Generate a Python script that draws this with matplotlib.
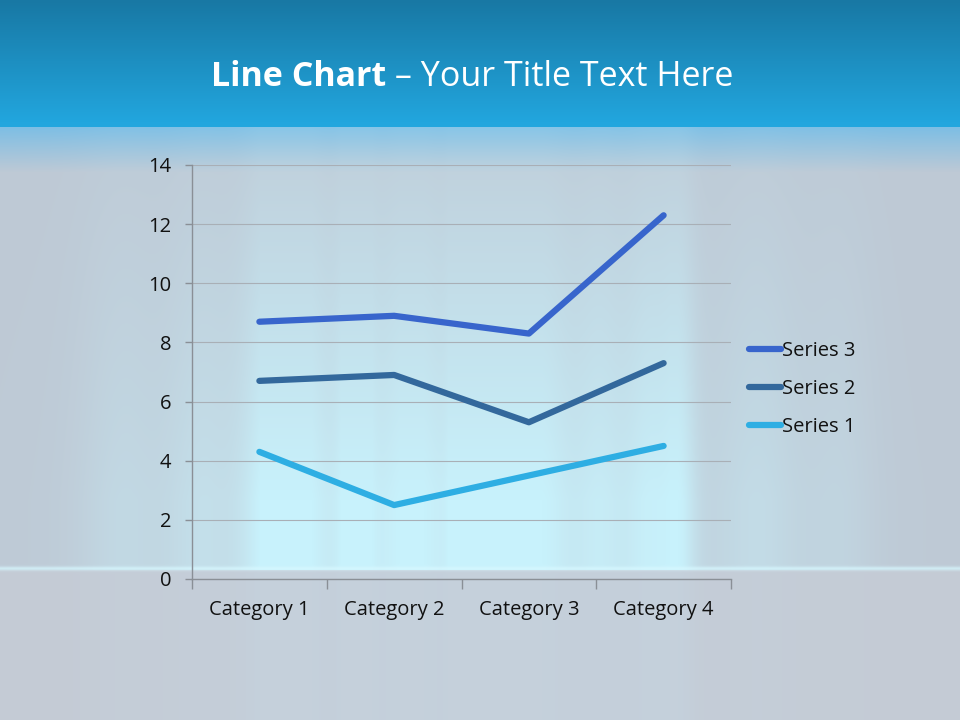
import numpy as np
import matplotlib.pyplot as plt

# chart data
categories = ['Category 1', 'Category 2', 'Category 3', 'Category 4']
series1 = [4.3, 2.5, 3.5, 4.5]
series2 = [6.7, 6.9, 5.3, 7.3]
series3 = [8.7, 8.9, 8.3, 12.3]
y_ticks = [0, 2, 4, 6, 8, 10, 12, 14]

FONT = 'Open Sans'
W, H = 960, 720

# slide background: blue header, grey body with light vertical streaks
yy = np.arange(H)[:, None]
cols = np.arange(W)

top = np.array([24, 120, 164]) / 255
head = np.array([34, 166, 222]) / 255
t = np.clip(yy / 122, 0, 1)[..., None]
header = top * (1 - t) + head * t

glow_a = np.array([125, 190, 228]) / 255
grey = np.array([190, 201, 213]) / 255
t2 = np.clip((yy - 127) / 45, 0, 1)[..., None]
body = glow_a * (1 - t2) + grey * t2

# broad soft glow plus narrow streaks across the width
broad = np.exp(-0.5 * ((cols - 450) / 190) ** 2) * 0.55
centers = [120, 200, 265, 300, 355, 410, 465, 490, 540, 600, 650, 680, 760, 840]
widths = [30, 25, 20, 25, 12, 30, 10, 18, 25, 18, 20, 12, 30, 25]
amps = [0.25, 0.3, 0.5, 0.6, 0.7, 0.5, 0.8, 0.6, 0.5, 0.4, 0.6, 0.5, 0.3, 0.2]
prof = broad.copy()
for c, w, a in zip(centers, widths, amps):
    prof += a * np.exp(-0.5 * ((cols - c) / w) ** 2)
prof = np.clip(prof, 0, 1)[None, :]
env = np.clip((yy - 140) / 360, 0, 1) * 0.85 + 0.15
streak_col = np.array([200, 242, 252]) / 255
s = (prof * env)[..., None]
body = body * (1 - s) + streak_col * s

lower_grey = np.array([196, 203, 213]) / 255
lower_s = (prof * 0.25)[..., None]
lower = lower_grey * (1 - lower_s) + np.array([200, 225, 240]) / 255 * lower_s

bg = np.where(yy[..., None] < 127, header, body)
bg = np.where(yy[..., None] >= 570, lower, bg)
# bright horizon line
line_band = np.exp(-0.5 * ((yy - 568) / 1.5) ** 2)[..., None] * 0.7
bg = bg * (1 - line_band) + np.array([215, 248, 255]) / 255 * line_band

fig = plt.figure(figsize=(9.6, 7.2), dpi=100)
bg_ax = fig.add_axes([0, 0, 1, 1])
bg_ax.imshow(bg, aspect='auto', extent=[0, W, H, 0])
bg_ax.axis('off')

# title, bold part followed by regular part, centred as one line
renderer = fig.canvas.get_renderer()
t1 = fig.text(0, 0, 'Line Chart', fontsize=24.5, fontweight='bold', family=FONT, color='white')
t2 = fig.text(0, 0, ' \u2013 Your Title Text Here', fontsize=24.5, family=FONT, color='white')
w1 = t1.get_window_extent(renderer).width
w2 = t2.get_window_extent(renderer).width
x0 = (472 - (w1 + w2) / 2) / W
ty = 1 - 77 / H
t1.set_position((x0, ty))
t1.set_va('center')
t2.set_position((x0 + w1 / W, ty))
t2.set_va('center')

ax = fig.add_axes([192 / W, 1 - 579 / H, 539 / W, 414 / H])
ax.patch.set_alpha(0)
x = np.arange(len(categories))
l1, = ax.plot(x, series1, color='#2eaee3', lw=4.5, solid_capstyle='round', label='Series 1')
l2, = ax.plot(x, series2, color='#33689c', lw=4.5, solid_capstyle='round', label='Series 2')
l3, = ax.plot(x, series3, color='#3865cc', lw=4.5, solid_capstyle='round', label='Series 3')

ax.set_xlim(-0.5, len(categories) - 0.5)
ax.set_ylim(0, 14)
ax.set_yticks(y_ticks)
ax.set_xticks(x)
ax.set_xticklabels(categories)
ax.set_xticks(np.arange(len(categories) + 1) - 0.5, minor=True)
ax.tick_params(axis='x', which='major', length=0, pad=15)
ax.tick_params(axis='x', which='minor', length=7, color='#8a8f96', width=1)
ax.tick_params(axis='y', length=5, color='#8a8f96', width=1, pad=10)
for lab in ax.get_xticklabels() + ax.get_yticklabels():
    lab.set_family(FONT)
    lab.set_fontsize(14.5)
    lab.set_color('#111111')
ax.grid(axis='y', color='#a9afb6', lw=0.8)
ax.set_axisbelow(True)
for side in ['top', 'right']:
    ax.spines[side].set_visible(False)
for side in ['left', 'bottom']:
    ax.spines[side].set_color('#8a8f96')
    ax.spines[side].set_linewidth(1)

leg = ax.legend(handles=[l3, l2, l1], loc='center left', bbox_to_anchor=(749 / W, 1 - 389 / H),
                bbox_transform=fig.transFigure, frameon=False, handlelength=1.6,
                handletextpad=0.05, labelspacing=0.9, borderpad=0, borderaxespad=0,
                prop={'family': FONT, 'size': 14.5})
for txt in leg.get_texts():
    txt.set_color('#111111')

fig.savefig('out.png', dpi=100)
